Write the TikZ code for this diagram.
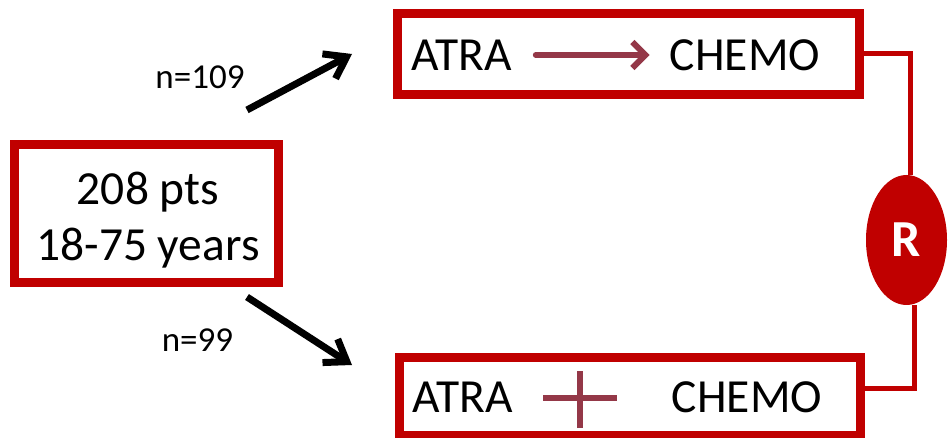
\documentclass[tikz,border=0pt]{standalone}
\usepackage{fontspec}
\setmainfont{Carlito}
\usetikzlibrary{arrows.meta,shapes.geometric}
\definecolor{boxred}{RGB}{192,0,0}
\definecolor{wine}{RGB}{148,56,72}
\begin{document}
\begin{tikzpicture}[x=1pt,y=-1pt,
  frame/.style={draw=boxred,line width=9pt,rectangle,inner sep=0pt,outer sep=0pt},
  big/.style={inner sep=0pt,font=\fontsize{47.5}{56}\selectfont},
  small/.style={inner sep=0pt,font=\fontsize{35}{42}\selectfont},
  flow/.style={line width=7pt,-{Straight Barb[length=20pt,width=28pt]}},
  inner/.style={draw=wine,line width=6pt},
  link/.style={draw=boxred,line width=5pt}]
\useasboundingbox (0,0) rectangle (948,438);

% patient pool
\node[frame,minimum width=264pt,minimum height=138pt] (src) at (146.5,213.5) {};
\node[big,align=center] (srctxt) at (148,220) {208 pts\\18-75 years};

% the two arms
\node[frame,minimum width=462pt,minimum height=81pt] (armA) at (628.5,54) {};
\node[frame,minimum width=461pt,minimum height=78pt] (armB) at (630,396.5) {};

\node[big] (atraA) at (461.5,55) {ATRA};
\node[big] (chemoA) at (745,55) {CHEMO};
\node[big] (atraB) at (463,397.5) {ATRA};
\node[big] (chemoB) at (747,397.5) {CHEMO};

% sequential: ATRA then chemotherapy
\draw[inner,line cap=round,-{Straight Barb[length=13pt,width=26pt]}]
  (atraA.east) ++(24,0) coordinate (seqS) (seqS) -- ([xshift=-20pt]chemoA.west);

% combined: ATRA plus chemotherapy
\coordinate (plusC) at (580,398);
\draw[inner] ([xshift=-37pt]plusC) -- ([xshift=37pt]plusC);
\draw[inner] ([yshift=-30pt]plusC) -- ([yshift=27pt]plusC);

% randomisation
\node[ellipse,fill=boxred,inner sep=0pt,minimum width=81pt,minimum height=130pt,
      text=white,font=\fontsize{52}{56}\selectfont\bfseries] (rand) at (906.5,240) {R};
\draw[link] (armA.east) -| ([xshift=3.5pt]rand.north);
\draw[link] ([xshift=7.5pt]rand.south) |- ([yshift=8pt]armB.east);

% allocation arrows
\coordinate (upS) at (247,110);
\coordinate (upE) at (352,54);
\coordinate (dnS) at (247,297);
\coordinate (dnE) at (352,365);
\draw[flow] (upS) -- (upE);
\draw[flow] (dnS) -- (dnE);
\node[small] (nA) at (200,77.5) {n=109};
\node[small] (nB) at (197.5,340.5) {n=99};
\end{tikzpicture}
\end{document}
